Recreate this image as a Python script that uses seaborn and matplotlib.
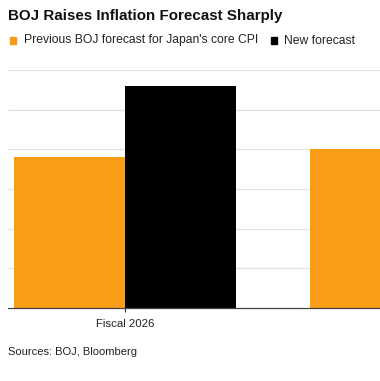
import numpy as np
import pandas as pd
import matplotlib
matplotlib.use("Agg")
import matplotlib.pyplot as plt
import seaborn as sns

years = ["Fiscal 2026", "Fiscal 2027"]
previous = [1.9, 2.0]
new = [2.8, np.nan]
series_names = ["Previous BOJ forecast for Japan's core CPI", "New forecast"]

df = pd.DataFrame({
    "year": years * 2,
    "value": previous + new,
    "series": [series_names[0]] * 2 + [series_names[1]] * 2,
})

sns.set_theme(style="white")
plt.rcParams["font.family"] = ["Liberation Sans", "DejaVu Sans"]

fig = plt.figure(figsize=(3.8, 3.81), dpi=100)
ax = fig.add_axes([8 / 380, 73 / 381, 372 / 380, 238 / 381])

palette = {series_names[0]: "#F99D17", series_names[1]: "#000000"}
sns.barplot(ax=ax, data=df, x="year", y="value", hue="series", palette=palette,
            width=0.75, saturation=1, linewidth=0, legend=False)

ax.set_xlim(-0.395, 0.861)
ax.set_ylim(0, 3.0)
ax.set_yticks(np.arange(0.5, 3.01, 0.5))
ax.yaxis.grid(True, color="#e2e2e2", linewidth=0.9)
ax.set_axisbelow(True)
ax.tick_params(axis="y", left=False, labelleft=False)
ax.tick_params(axis="x", bottom=True, length=3, width=0.8, color="#333333",
               labelsize=8.2, pad=5, labelcolor="#222222")
for s in ["top", "right", "left"]:
    ax.spines[s].set_visible(False)
ax.spines["bottom"].set_color("#444444")
ax.spines["bottom"].set_linewidth(0.9)
ax.set_xlabel("")
ax.set_ylabel("")

fig.text(8 / 380, 1 - 16 / 381, "BOJ Raises Inflation Forecast Sharply",
         fontsize=10.9, fontweight="bold", va="center", ha="left", color="#111111")

# legend drawn as text with square markers
fig.patches.append(plt.Rectangle((10 / 380, 1 - 44 / 381), 6 / 380, 7 / 381,
                                 transform=fig.transFigure, color=palette[series_names[0]]))
fig.text(24 / 380, 1 - 40.5 / 381, series_names[0], fontsize=8.7, va="center",
         ha="left", color="#222222")
fig.patches.append(plt.Rectangle((271 / 380, 1 - 44 / 381), 6 / 380, 7 / 381,
                                 transform=fig.transFigure, color=palette[series_names[1]]))
fig.text(284 / 380, 1 - 40.5 / 381, series_names[1], fontsize=8.7, va="center",
         ha="left", color="#222222")

fig.text(8 / 380, 1 - 352 / 381, "Sources: BOJ, Bloomberg", fontsize=8.0,
         va="center", ha="left", color="#222222")

fig.savefig("out.png", dpi=100)
